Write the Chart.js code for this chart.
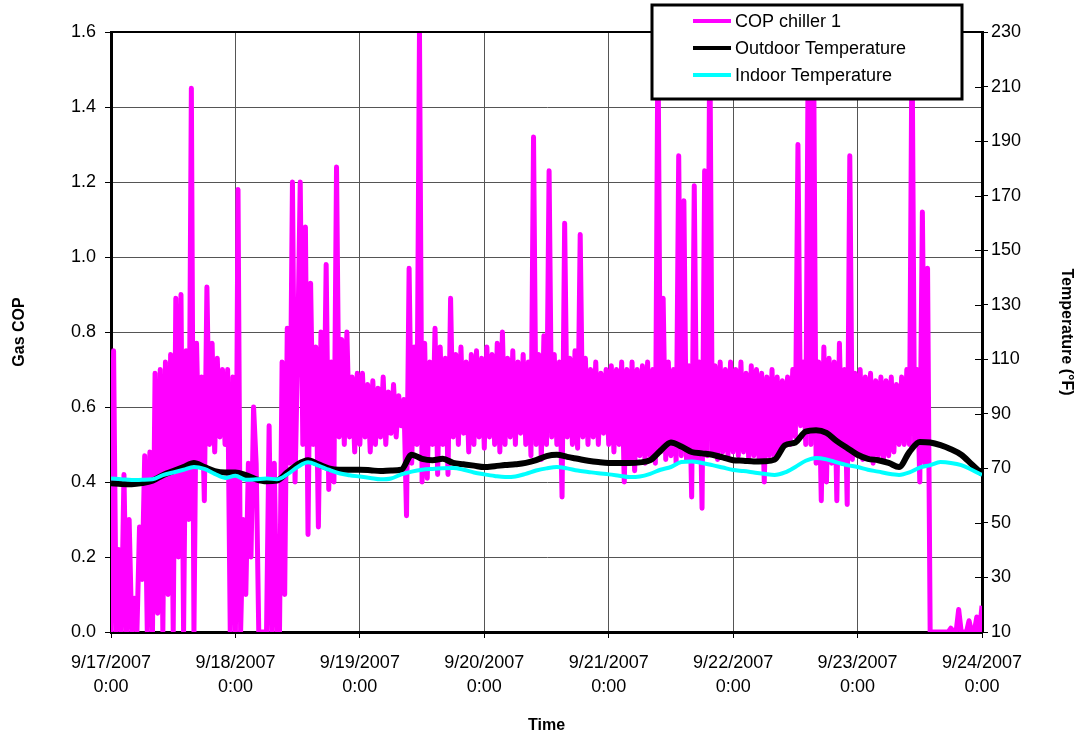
<!DOCTYPE html>
<html lang="en">
<head>
    <meta charset="UTF-8">
    <script src="https://cdn.jsdelivr.net/npm/chart.js@4.4.1/dist/chart.umd.min.js"></script>
    <title>COP chiller 1</title>
    <style type="text/css">
        body { margin: 0; background: #fff; }
    </style>
</head>
<body>
    <canvas id="copCanvas" width="1080" height="738"></canvas>
<script>

// day ticks on the time axis (hours from 9/17/2007 0:00)
var dayLabels = ['9/17/2007', '9/18/2007', '9/19/2007', '9/20/2007', '9/21/2007', '9/22/2007', '9/23/2007', '9/24/2007'];

// COP chiller 1, one reading every 30 minutes
var copStep = 0.5;
var copValues = [
    0, 0.75, 0, 0.22, 0, 0.42, 0, 0.3, 0, 0.09, 0, 0.28,
    0.14, 0.47, 0, 0.48, 0, 0.69, 0.05, 0.7, 0, 0.72, 0.1, 0.74,
    0, 0.89, 0.2, 0.9, 0, 0.75, 0.3, 1.45, 0, 0.77, 0.45, 0.68,
    0.35, 0.92, 0.5, 0.77, 0.48, 0.73, 0.52, 0.7, 0.5, 0.7, 0, 0.68,
    0, 1.18, 0, 0.3, 0.1, 0.45, 0.2, 0.6, 0.45, 0, 0, 0,
    0, 0.55, 0, 0.45, 0, 0, 0.72, 0.1, 0.81, 0.45, 1.2, 0.4,
    0.75, 1.2, 0.5, 1.08, 0.26, 0.93, 0.5, 0.76, 0.28, 0.8, 0.45, 0.98,
    0.38, 0.72, 0.4, 1.24, 0.52, 0.78, 0.5, 0.8, 0.52, 0.68, 0.48, 0.69,
    0.5, 0.69, 0.52, 0.66, 0.48, 0.67, 0.5, 0.65, 0.52, 0.68, 0.5, 0.64,
    0.53, 0.66, 0.52, 0.63, 0.55, 0.62, 0.31, 0.97, 0.45, 0.76, 0.5, 1.6,
    0.4, 0.77, 0.41, 0.72, 0.5, 0.81, 0.42, 0.76, 0.5, 0.73, 0.42, 0.89,
    0.52, 0.74, 0.5, 0.76, 0.53, 0.72, 0.48, 0.74, 0.5, 0.75, 0.52, 0.73,
    0.49, 0.76, 0.52, 0.74, 0.5, 0.77, 0.48, 0.8, 0.5, 0.73, 0.52, 0.75,
    0.5, 0.72, 0.53, 0.74, 0.5, 0.72, 0.47, 1.32, 0.5, 0.74, 0.46, 0.79,
    0.5, 1.23, 0.52, 0.74, 0.5, 0.72, 0.36, 1.09, 0.52, 0.73, 0.5, 0.75,
    0.49, 1.06, 0.52, 0.73, 0.5, 0.7, 0.52, 0.72, 0.5, 0.69, 0.53, 0.7,
    0.5, 0.71, 0.48, 0.7, 0.5, 0.72, 0.4, 0.7, 0.46, 0.72, 0.43, 0.7,
    0.47, 0.71, 0.45, 0.72, 0.47, 0.7, 0.45, 1.6, 0.48, 0.89, 0.46, 0.72,
    0.47, 0.7, 0.45, 1.27, 0.47, 1.15, 0.46, 0.71, 0.36, 1.19, 0.46, 0.72,
    0.33, 1.23, 0.47, 1.6, 0.48, 0.71, 0.46, 0.72, 0.48, 0.7, 0.47, 0.72,
    0.48, 0.7, 0.47, 0.72, 0.48, 0.69, 0.46, 0.71, 0.47, 0.7, 0.46, 0.69,
    0.4, 0.68, 0.47, 0.7, 0.46, 0.68, 0.48, 0.67, 0.5, 0.68, 0.5, 0.7,
    0.52, 1.3, 0.55, 0.72, 0.5, 1.6, 0.5, 1.6, 0.45, 0.72, 0.35, 0.76,
    0.4, 0.73, 0.45, 0.72, 0.35, 0.77, 0.45, 0.7, 0.34, 1.27, 0.46, 0.69,
    0.47, 0.7, 0.46, 0.68, 0.47, 0.69, 0.45, 0.67, 0.47, 0.68, 0.46, 0.67,
    0.47, 0.68, 0.48, 0.66, 0.5, 0.68, 0.5, 0.7, 0.5, 1.6, 0.5, 0.7,
    0.4, 1.12, 0.45, 0.97, 0, 0, 0, 0, 0, 0, 0, 0,
    0.01, 0, 0, 0.06, 0, 0, 0, 0.03, 0, 0, 0.04, 0,
    0.07
];

// temperatures (F), one reading every 2 hours
var tempStep = 2;
var outdoorTemp = [
    64.5, 64.3, 64.2, 64.6, 65.5, 67.5, 69, 70.5, 72, 70.5, 69, 68.5,
    68.5, 67.5, 66, 65.3, 65.5, 68.5, 71.5, 73, 71.5, 70, 69.5, 69.5,
    69.5, 69.3, 69, 69.2, 69.5, 75, 73.5, 73, 73.5, 72, 71.5, 71,
    70.5, 70.8, 71.2, 71.5, 72, 73, 74.5, 75, 74.2, 73.5, 72.8, 72.3,
    72, 72, 72, 72.2, 73, 76.5, 79.5, 78, 76, 75.5, 75, 74,
    73, 72.8, 72.5, 72.6, 73.2, 78.5, 79.5, 83.5, 84, 83, 80, 77.5,
    75, 73.5, 73, 72, 70.5, 76, 79.7, 79.5, 78.5, 77, 75, 71.5,
    68
];
var indoorTemp = [
    66.3, 66, 65.7, 65.8, 66, 67.5, 68.5, 69.5, 70.5, 69.8, 68, 66.5,
    67.3, 65.8, 66, 66.3, 66, 67.8, 70.5, 72.2, 71, 69.5, 68.2, 67.5,
    67, 66.5, 66, 66.3, 67.8, 68.8, 69.5, 69.8, 70, 70.1, 69.5, 68.5,
    67.8, 67.2, 66.8, 67, 68, 69.2, 70, 70.5, 70, 69.2, 68.7, 68.2,
    67.8, 67.3, 66.8, 67, 68, 69.5, 70.5, 72.3, 72.5, 72, 71.2, 70.3,
    69.4, 69, 68.5, 68, 67.6, 68.5, 70.5, 72.8, 73.8, 73.3, 72.2, 71.2,
    70.5, 69.5, 68.8, 68, 67.6, 68.5, 70.3, 71.2, 72.3, 72, 71.2, 69.5,
    67.6
];

function toPoints(values, step) {
    return values.map(function (v, i) { return {x: i * step, y: v}; });
}

// legend box, top border and inner right ticks
var framePlugin = {
    id: 'frame',
    afterDraw: function (chart) {
        var ctx = chart.ctx;
        var a = chart.chartArea;
        ctx.save();
        ctx.strokeStyle = '#000';
        ctx.lineWidth = 2;
        ctx.beginPath();
        ctx.moveTo(a.left, a.top);
        ctx.lineTo(a.right, a.top);
        ctx.stroke();

        var y1 = chart.scales.y1;
        ctx.lineWidth = 1;
        y1.ticks.forEach(function (t, i) {
            var y = Math.round(y1.getPixelForTick(i)) + 0.5;
            ctx.beginPath();
            ctx.moveTo(a.right - 7, y);
            ctx.lineTo(a.right, y);
            ctx.stroke();
        });

        // legend
        var bx = 652, by = 5, bw = 310, bh = 94;
        ctx.fillStyle = '#fff';
        ctx.fillRect(bx, by, bw, bh);
        ctx.lineWidth = 3;
        ctx.strokeRect(bx, by, bw, bh);
        ctx.font = '18px "Liberation Sans", Arial, sans-serif';
        ctx.textBaseline = 'middle';
        ctx.fillStyle = '#000';
        chart.data.datasets.forEach(function (ds, i) {
            var ry = 21 + i * 27;
            ctx.strokeStyle = ds.borderColor;
            ctx.lineWidth = 4;
            ctx.beginPath();
            ctx.moveTo(693, ry);
            ctx.lineTo(731, ry);
            ctx.stroke();
            ctx.fillText(ds.label, 735, ry + 1);
        });
        ctx.restore();
    }
};

Chart.defaults.font.family = '"Liberation Sans", Arial, sans-serif';
Chart.defaults.font.size = 18;
Chart.defaults.color = '#000';

var chart = new Chart(document.getElementById('copCanvas'), {
    type: 'line',
    data: {
        datasets: [
            {
                label: 'COP chiller 1',
                data: toPoints(copValues, copStep),
                borderColor: '#ff00ff',
                borderWidth: 5,
                borderJoinStyle: 'round',
                pointRadius: 0,
                tension: 0,
                yAxisID: 'y',
                order: 3
            },
            {
                label: 'Outdoor Temperature',
                data: toPoints(outdoorTemp, tempStep),
                borderColor: '#000000',
                borderWidth: 6,
                pointRadius: 0,
                cubicInterpolationMode: 'monotone',
                yAxisID: 'y1',
                order: 2
            },
            {
                label: 'Indoor Temperature',
                data: toPoints(indoorTemp, tempStep),
                borderColor: '#00ffff',
                borderWidth: 4,
                pointRadius: 0,
                cubicInterpolationMode: 'monotone',
                yAxisID: 'y1',
                order: 1
            }
        ]
    },
    options: {
        responsive: false,
        animation: false,
        devicePixelRatio: 1,
        layout: {padding: {top: 32, left: 0, right: 0, bottom: 0}},
        plugins: {
            legend: {display: false},
            tooltip: {enabled: false}
        },
        scales: {
            x: {
                type: 'linear',
                min: 0,
                max: 168,
                afterFit: function (s) { s.height = 106; },
                ticks: {
                    stepSize: 24,
                    padding: 14,
                    maxRotation: 0,
                    font: {size: 18, lineHeight: 1.28},
                    callback: function (v) { return [dayLabels[v / 24], '0:00']; }
                },
                grid: {color: '#555', tickColor: '#000', tickLength: 6},
                border: {color: '#000', width: 3},
                title: {display: true, text: 'Time', font: {size: 16, weight: 'bold'}, padding: {top: 0, bottom: 3}}
            },
            y: {
                position: 'left',
                min: 0,
                max: 1.6,
                afterFit: function (s) { s.width = 111; },
                ticks: {
                    stepSize: 0.2,
                    padding: 9,
                    callback: function (v) { return v.toFixed(1); }
                },
                grid: {color: '#555', tickColor: '#000', tickLength: 6},
                border: {color: '#000', width: 3},
                title: {display: true, text: 'Gas COP', font: {size: 16, weight: 'bold'}, padding: {top: 10, bottom: 0}}
            },
            y1: {
                position: 'right',
                min: 10,
                max: 230,
                afterFit: function (s) { s.width = 98; },
                ticks: {stepSize: 20, padding: 3},
                grid: {drawOnChartArea: false, tickColor: '#000', tickLength: 6},
                border: {color: '#000', width: 3},
                title: {display: true, text: 'Temperature (°F)', font: {size: 16, weight: 'bold'}, padding: {top: 4, bottom: 0}}
            }
        }
    },
    plugins: [framePlugin]
});

</script>
</body>
</html>
